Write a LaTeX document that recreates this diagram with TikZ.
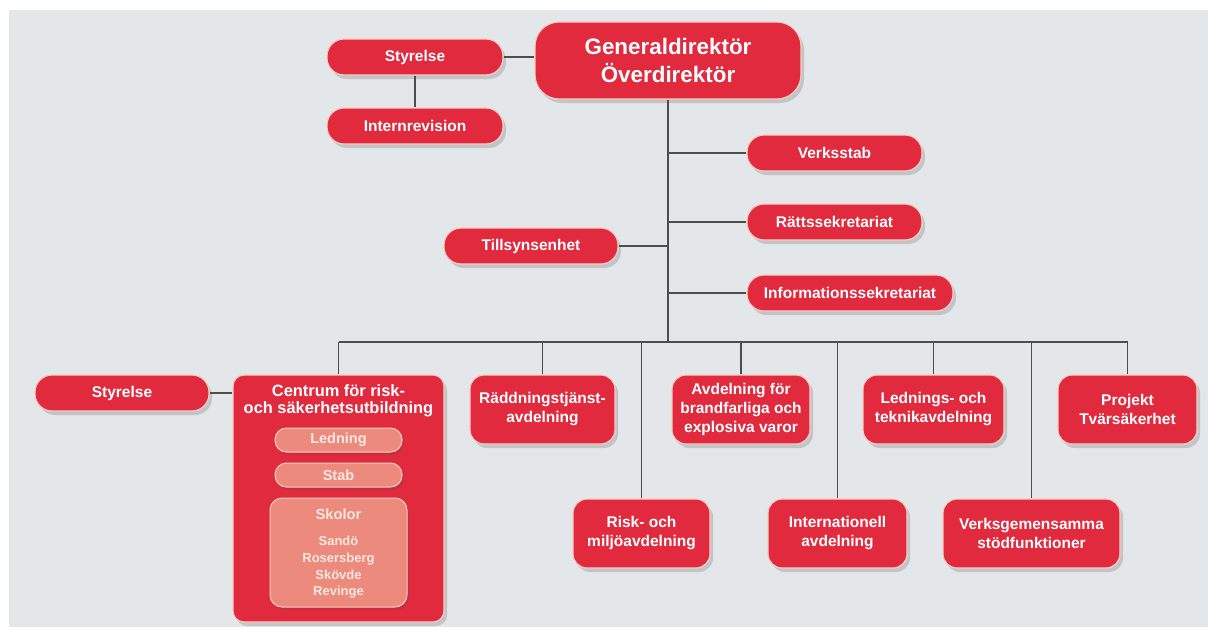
\documentclass[tikz,border=0pt]{standalone}
\usepackage{fontspec}
\setmainfont{Liberation Sans}
\usetikzlibrary{shadows}
\definecolor{bgc}{HTML}{E4E7EA}
\definecolor{boxred}{HTML}{E22A3F}
\definecolor{boxedge}{HTML}{F6CFC4}
\definecolor{lightbox}{HTML}{EC8A7E}
\definecolor{lightedge}{HTML}{F8CDBF}
\definecolor{lighttext}{HTML}{FCE8E0}
\definecolor{linegray}{HTML}{4D4D4D}
\pgfdeclarelayer{back}
\pgfsetlayers{back,main}
\tikzset{
  base/.style={draw=boxedge, line width=1.2pt, fill=boxred, text=white,
    font=\bfseries\fontsize{15.5}{19}\selectfont, align=center, inner sep=0pt,
    drop shadow={shadow xshift=3pt, shadow yshift=-4pt, opacity=0.22, fill=black!70}},
  pill/.style={base, rounded corners=17pt, minimum height=36pt},
  unit/.style={base, rounded corners=14pt, minimum height=69pt},
  lightpill/.style={draw=lightedge, line width=1pt, fill=lightbox, text=lighttext,
    font=\bfseries\fontsize{14.5}{17}\selectfont, inner sep=0pt,
    rounded corners=11.5pt, minimum height=24pt, minimum width=127pt,
    drop shadow={shadow xshift=2pt, shadow yshift=-3pt, opacity=0.2, fill=black!70}},
  lightbig/.style={draw=lightedge, line width=1pt, fill=lightbox, inner sep=0pt,
    rounded corners=12pt,
    drop shadow={shadow xshift=2pt, shadow yshift=-3pt, opacity=0.2, fill=black!70}},
  lighttxt/.style={text=lighttext, align=center, inner sep=0pt},
  conn/.style={draw=linegray, line width=1.6pt},
}
\begin{document}
\begin{tikzpicture}[x=1pt,y=-1pt]
\useasboundingbox (0,0) rectangle (1208,627);
\begin{pgfonlayer}{back}
\fill[white] (0,0) rectangle (1208,627);
\fill[bgc] (9,10) rectangle (1208,627);
\end{pgfonlayer}

% top level
\node[base, rounded corners=24pt, minimum width=266pt, minimum height=77pt,
  font=\bfseries\fontsize{22.4}{28}\selectfont] (gd) at (668,60.5) {Generaldirektör\\Överdirektör};
\node[pill, minimum width=176pt] (sty) at (415,57) {Styrelse};
\node[pill, minimum width=176pt] (intr) at (415,126) {Internrevision};

% staff
\node[pill, minimum width=175pt] (verk) at (834.5,153) {Verksstab};
\node[pill, minimum width=175pt] (ratt) at (834.5,222) {Rättssekretariat};
\node[pill, minimum width=206pt] (info) at (850,293) {Informationssekretariat};
\node[pill, minimum width=174pt] (till) at (531,246) {Tillsynsenhet};

% bus
\coordinate (busL) at (338.5,342);
\coordinate (busR) at (1127.5,342);

% Centrum
\node[pill, minimum width=174pt] (sty2) at (122,393) {Styrelse};
\node[base, rounded corners=11pt, minimum width=211pt, minimum height=247pt] (cen) at (338.5,498.5) {};
\node[text=white, align=center, inner sep=0pt, font=\bfseries\fontsize{16.4}{17.5}\selectfont]
  (centitle) at (338.5,401) {Centrum för risk-\\och säkerhetsutbildning};
\node[lightpill] (led) at (338.5,440) {Ledning};
\node[lightpill] (stab) at (338.5,475) {Stab};
\node[lightbig, minimum width=137pt, minimum height=109pt] (skol) at (338.5,552.5) {};
\node[lighttxt, font=\bfseries\fontsize{14.7}{17}\selectfont] (skolt) at (338.5,514) {Skolor};
\node[lighttxt, font=\bfseries\fontsize{13}{16.7}\selectfont] (skoll) at (338.5,567.5) {Sandö\\Rosersberg\\Skövde\\Revinge};

% units
\node[unit, minimum width=145pt] (radd) at (542.5,409.5) {Räddningstjänst-\\avdelning};
\node[unit, minimum width=138pt] (avd) at (741,409.5) {Avdelning för\\brandfarliga och\\explosiva varor};
\node[unit, minimum width=141pt] (ledt) at (933.5,409.5) {Lednings- och\\teknikavdelning};
\node[unit, minimum width=139pt] (proj) at (1127.5,409.5) {Projekt\\Tvärsäkerhet};
\node[unit, minimum width=137pt] (risk) at (641.5,533.5) {Risk- och\\miljöavdelning};
\node[unit, minimum width=139pt] (intl) at (837.5,533.5) {Internationell\\avdelning};
\node[unit, minimum width=177pt] (vgem) at (1031.5,533.5) {Verksgemensamma\\stödfunktioner};

\begin{pgfonlayer}{back}
\draw[conn] (sty.east) -- (sty.east -| gd.west);
\draw[conn] (sty.south) -- (intr.north);
\draw[conn] (gd.south) -- (gd.south |- busL);
\draw[conn] (verk.west) -- (verk.west -| gd.south);
\draw[conn] (ratt.west) -- (ratt.west -| gd.south);
\draw[conn] (info.west) -- (info.west -| gd.south);
\draw[conn] (till.east) -- (till.east -| gd.south);
\draw[conn] (busL) -- (busR);
\draw[conn] (cen.north) -- (cen.north |- busL);
\draw[conn] (sty2.east) -- (sty2.east -| cen.west);
\foreach \u in {radd,avd,ledt,proj,risk,intl,vgem}
  \draw[conn] (\u.north) -- (\u.north |- busL);
\end{pgfonlayer}
\end{tikzpicture}
\end{document}
